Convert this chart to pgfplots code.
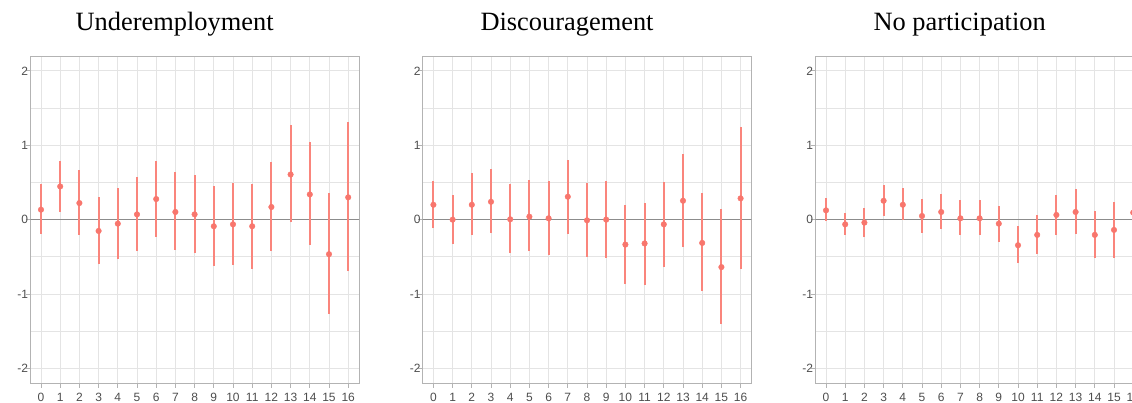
\documentclass[border=0pt]{standalone}
\usepackage{pgfplots}
\pgfplotsset{compat=1.18}
\usepackage{pgfplotstable}
\usepackage{fontspec}
\setmainfont{Liberation Sans}
\newfontfamily\titlefont{Liberation Serif}
\definecolor{ptc}{HTML}{F8766D}
\definecolor{barc}{HTML}{FA857C}
\definecolor{gridc}{HTML}{E4E4E4}
\definecolor{framec}{HTML}{B3B3B3}
\definecolor{ticklab}{HTML}{4D4D4D}
\definecolor{zeroc}{HTML}{8C8C8C}

% point estimates
\pgfplotstableread{
x y
0 0.134
1 0.446
2 0.223
3 -0.152
4 -0.054
5 0.071
6 0.277
7 0.103
8 0.071
9 -0.089
10 -0.063
11 -0.089
12 0.17
13 0.607
14 0.339
15 -0.464
16 0.30
}\underpt
% intervals: lower, upper, break
\pgfplotstableread{
x v
0 -0.19
0 0.48
0 nan
1 0.107
1 0.795
1 nan
2 -0.205
2 0.67
2 nan
3 -0.598
3 0.30
3 nan
4 -0.53
4 0.43
4 nan
5 -0.424
5 0.58
5 nan
6 -0.232
6 0.795
6 nan
7 -0.406
7 0.634
7 nan
8 -0.446
8 0.60
8 nan
9 -0.62
9 0.455
9 nan
10 -0.607
10 0.49
10 nan
11 -0.66
11 0.48
11 nan
12 -0.424
12 0.77
12 nan
13 -0.036
13 1.27
13 nan
14 -0.34
14 1.045
14 nan
15 -1.263
15 0.357
15 nan
16 -0.692
16 1.31
}\underci

\pgfplotstableread{
x y
0 0.20
1 0.0
2 0.20
3 0.24
4 0.005
5 0.04
6 0.018
7 0.308
8 -0.009
9 0.0
10 -0.335
11 -0.32
12 -0.063
13 0.254
14 -0.313
15 -0.638
16 0.286
}\discpt
\pgfplotstableread{
x v
0 -0.116
0 0.52
0 nan
1 -0.33
1 0.326
1 nan
2 -0.205
2 0.625
2 nan
3 -0.18
3 0.68
3 nan
4 -0.446
4 0.473
4 nan
5 -0.424
5 0.527
5 nan
6 -0.47
6 0.518
6 nan
7 -0.19
7 0.808
7 nan
8 -0.50
8 0.495
8 nan
9 -0.513
9 0.518
9 nan
10 -0.866
10 0.196
10 nan
11 -0.88
11 0.228
11 nan
12 -0.638
12 0.509
12 nan
13 -0.37
13 0.884
13 nan
14 -0.96
14 0.357
14 nan
15 -1.40
15 0.138
15 nan
16 -0.66
16 1.25
}\discci

\pgfplotstableread{
x y
0 0.125
1 -0.063
2 -0.04
3 0.254
4 0.20
5 0.049
6 0.103
7 0.018
8 0.018
9 -0.054
10 -0.344
11 -0.205
12 0.063
13 0.103
14 -0.205
15 -0.138
16 0.094
}\nopartpt
\pgfplotstableread{
x v
0 -0.013
0 0.29
0 nan
1 -0.205
1 0.094
1 nan
2 -0.24
2 0.16
2 nan
3 0.049
3 0.464
3 nan
4 0.0
4 0.43
4 nan
5 -0.174
5 0.28
5 nan
6 -0.125
6 0.344
6 nan
7 -0.205
7 0.268
7 nan
8 -0.205
8 0.268
8 nan
9 -0.295
9 0.19
9 nan
10 -0.585
10 -0.085
10 nan
11 -0.46
11 0.067
11 nan
12 -0.205
12 0.335
12 nan
13 -0.196
13 0.41
13 nan
14 -0.513
14 0.12
14 nan
15 -0.513
15 0.237
15 nan
16 -0.14
16 0.33
}\nopartci

\pgfplotsset{
  panel/.style={
    scale only axis, width=328.7pt, height=327.3pt,
    xmin=-0.5573, xmax=16.5627, ymin=-2.2, ymax=2.2,
    xtick={0,...,16}, ytick={-2,-1,0,1,2}, yticklabels={-2,-1,0,1,2},
    /pgf/number format/assume math mode=true,
    minor ytick={-1.5,-0.5,0.5,1.5},
    grid=both,
    major grid style={gridc, line width=0.9pt},
    minor grid style={gridc, line width=0.7pt},
    axis line style={framec, line width=0.9pt},
    tick style={framec, line width=0.9pt},
    major tick length=4.5pt, minor tick length=0pt,
    tick align=outside, tick pos=left,
    unbounded coords=jump,
    ticklabel style={font=\fontsize{12}{13}\selectfont, text=ticklab, inner sep=0pt},
    xticklabel style={anchor=north, yshift=-5.6pt},
    yticklabel style={anchor=east, xshift=2.5pt},
    title style={font=\titlefont\fontsize{26.4}{30}\selectfont, at={(0.5,1)}, anchor=base, yshift=19.3pt, xshift=-20pt, inner sep=0pt},
  },
  ciline/.style={barc, line width=2pt, mark=none, forget plot},
  pts/.style={ptc, only marks, mark=*, mark size=2.8pt},
}

\begin{document}
\begin{tikzpicture}
\useasboundingbox (-30.3pt,-19.7pt) rectangle (1101.7pt,383.3pt);
\clip (-30.3pt,-19.7pt) rectangle (1101.7pt,383.3pt);
\begin{axis}[panel, title={Underemployment}, at={(0pt,0pt)}]
\addplot[zeroc, line width=0.9pt, forget plot] coordinates {(-0.6,0) (16.6,0)};
\addplot[ciline] table[x=x, y=v] {\underci};
\addplot[pts] table[x=x, y=y] {\underpt};
\end{axis}
\begin{axis}[panel, title={Discouragement}, at={(392.4pt,0pt)}]
\addplot[zeroc, line width=0.9pt, forget plot] coordinates {(-0.6,0) (16.6,0)};
\addplot[ciline] table[x=x, y=v] {\discci};
\addplot[pts] table[x=x, y=y] {\discpt};
\end{axis}
\begin{axis}[panel, title={No participation}, at={(785pt,0pt)}]
\addplot[zeroc, line width=0.9pt, forget plot] coordinates {(-0.6,0) (16.6,0)};
\addplot[ciline] table[x=x, y=v] {\nopartci};
\addplot[pts] table[x=x, y=y] {\nopartpt};
\end{axis}
\end{tikzpicture}
\end{document}
